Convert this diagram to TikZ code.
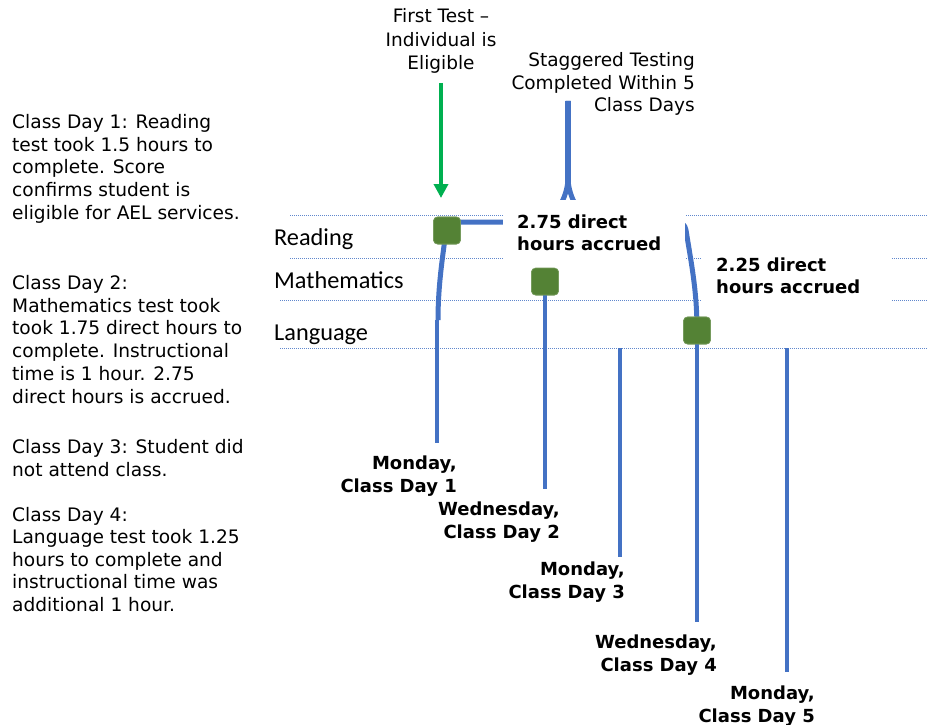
\documentclass[tikz,border=0pt]{standalone}
\usepackage{fontspec}
\setmainfont{DejaVu Sans}
\newfontfamily\labelfont{Carlito}
\usetikzlibrary{arrows.meta}
\definecolor{lineblue}{HTML}{4472C4}
\definecolor{sqgreen}{HTML}{548235}
\definecolor{arrgreen}{HTML}{00B050}
\begin{document}
\begin{tikzpicture}[x=1pt,y=-1pt,
  gridline/.style={lineblue!85, line width=0.7pt, dash pattern=on 1.2pt off 0.8pt},
  dayline/.style={lineblue, line width=4.5pt},
  braceline/.style={lineblue, line width=5pt},
  sq/.style={fill=sqgreen, draw=sqgreen!80!white, line width=0.6pt, rounded corners=4pt, minimum size=27pt, inner sep=0pt},
  note/.style={align=left, anchor=north west, inner sep=0pt, font=\fontsize{18.6}{22.8}\selectfont},
  daylab/.style={align=right, anchor=north east, inner sep=0pt, font=\fontsize{18}{23}\selectfont\bfseries},
  acc/.style={align=left, anchor=north west, inner sep=0pt, font=\fontsize{18}{22}\selectfont\bfseries},
  subj/.style={anchor=base west, inner sep=0pt, font=\labelfont\fontsize{24.3}{28}\selectfont},
  toptext/.style={inner sep=0pt, font=\fontsize{18.5}{23.5}\selectfont},
  greenarrow/.style={arrgreen, line width=4pt, -{Triangle[width=14pt,length=14pt]}}
]
\useasboundingbox (0,0) rectangle (927,725);

% grid lines
\draw[gridline] (290,215) -- (927,215);
\draw[gridline] (290,258) -- (927,258);
\draw[gridline] (280,300) -- (927,300);
\draw[gridline] (280,348) -- (927,348);

% brace
\coordinate (braceL) at (438,320);
\coordinate (braceTip) at (568,101);
\coordinate (braceR) at (697,330);
\draw[braceline] (braceL) .. controls (438,285) and (443,255) .. (445,238)
  .. controls (446,226) and (449,222) .. (458,222) -- (536,222)
  .. controls (556,222) and (568,195) .. (568,178) -- (braceTip);
\draw[braceline] (braceTip) -- (568,178) .. controls (568,195) and (580,222) .. (600,222)
  -- (676,222) .. controls (682,222) and (685,225) .. (686,230)
  .. controls (691,262) and (697,290) .. (braceR);
\draw[lineblue, line width=6.5pt] (braceTip) -- (568,182);

% squares
\node[sq] (sqR) at (447,230.5) {};
\node[sq] (sqM) at (545,281.5) {};
\node[sq] (sqL) at (697,330.5) {};

% day lines
\coordinate (d1t) at (437,320); \coordinate (d1b) at (437,443);
\coordinate (d2b) at (545,489);
\coordinate (d3t) at (620,348); \coordinate (d3b) at (620,557);
\coordinate (d4b) at (697,622);
\coordinate (d5t) at (787,348); \coordinate (d5b) at (787,672);
\draw[dayline] (d1t) -- (d1b);
\draw[dayline] (sqM.south) -- (d2b);
\draw[dayline] (d3t) -- (d3b);
\draw[dayline] (sqL.south) -- (d4b);
\draw[dayline] (d5t) -- (d5b);

% white boxes hiding the brace middle
\fill[white] (503,200) rectangle (685,270);
\fill[white] (701,245) rectangle (892,315);

% redraw squares on top
\node[sq] at (sqR) {};
\node[sq] at (sqM) {};
\node[sq] at (sqL) {};

% green arrow
\coordinate (arrS) at (441,83);
\coordinate (arrE) at (441,198);
\draw[greenarrow] (arrS) -- (arrE);

% texts
\node[toptext, align=center, anchor=north] (first) at (441,8.5) {First Test --\\Individual is\\Eligible};
\node[toptext, align=right, anchor=north east, font=\fontsize{18.5}{22.5}\selectfont] (stag) at (695,52.6) {Staggered Testing\\Completed Within 5\\Class Days};

\node[acc] (acc1) at (517,214.3) {2.75 direct\\hours accrued};
\node[acc] (acc2) at (716,258) {2.25 direct\\hours accrued};

\node[subj] (read) at (274,245) {Reading};
\node[subj] (math) at (274,288) {Mathematics};
\node[subj] (lang) at (274,340) {Language};

\node[daylab] (lab1) at (457,455.3) {Monday,\\Class Day 1};
\node[daylab] (lab2) at (560,501.3) {Wednesday,\\Class Day 2};
\node[daylab] (lab3) at (625,561.3) {Monday,\\Class Day 3};
\node[daylab] (lab4) at (717,634.3) {Wednesday,\\Class Day 4};
\node[daylab] (lab5) at (815,685.3) {Monday,\\Class Day 5};

\node[note] (n1) at (12,113.9) {Class Day 1: Reading\\test took 1.5 hours to\\complete. Score\\confirms student is\\eligible for AEL services.};
\node[note] (n2) at (12,275) {Class Day 2:\\Mathematics test took\\took 1.75 direct hours to\\complete. Instructional\\time is 1 hour. 2.75\\direct hours is accrued.};
\node[note] (n3) at (12,439) {Class Day 3: Student did\\not attend class.};
\node[note, font=\fontsize{18.6}{22.5}\selectfont] (n4) at (12,507) {Class Day 4:\\Language test took 1.25\\hours to complete and\\instructional time was\\additional 1 hour.};
\end{tikzpicture}
\end{document}
